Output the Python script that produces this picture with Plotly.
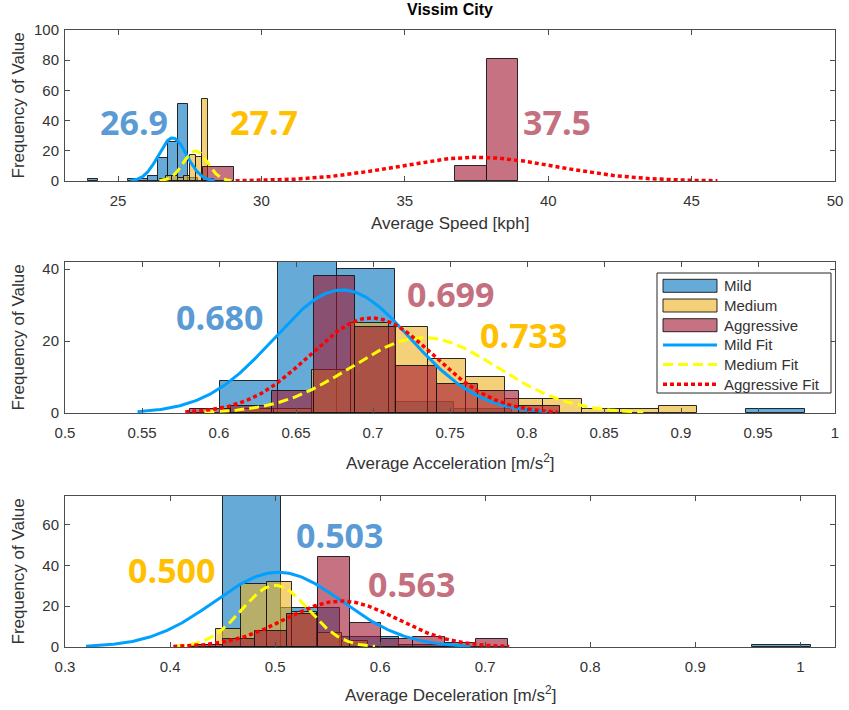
import numpy as np
import plotly.graph_objects as go

# ---------------- Histogram data (bin edges and counts) ----------------
# Average speed [kph]
speed_mild_edges = [23.94, 24.29, 24.64, 24.99, 25.34, 25.69, 26.04, 26.39, 26.74, 27.09, 27.44, 27.79]
speed_mild_counts = [1, 0, 0, 0, 1, 1, 3, 15, 26, 51, 2]
speed_medium_edges = [26.46, 26.67, 26.88, 27.09, 27.30, 27.51, 27.72, 27.93, 28.14, 28.35]
speed_medium_counts = [1, 3, 3, 2, 3, 17, 16, 54, 1]
speed_aggr_edges = [27.96, 29.06, 30.16, 31.26, 32.36, 33.46, 34.56, 35.66, 36.76, 37.86, 38.96]
speed_aggr_counts = [9, 0, 0, 0, 0, 0, 0, 0, 10, 81]

# Average acceleration [m/s^2]
accel_mild_edges = [0.6005, 0.6385, 0.6765, 0.7145, 0.7525, 0.7905, 0.8285, 0.8665, 0.9045, 0.9425, 0.9805]
accel_mild_counts = [9, 46, 40, 3, 1, 0, 0, 0, 0, 1]
accel_medium_edges = [0.5855, 0.6105, 0.6355, 0.6605, 0.6855, 0.7105, 0.7355, 0.7605,
                      0.7855, 0.8105, 0.8355, 0.8605, 0.8855, 0.9105]
accel_medium_counts = [0, 1, 1, 12, 25, 24, 15, 10, 4, 4, 1, 1, 2]
accel_aggr_edges = [0.5813, 0.6080, 0.6347, 0.6614, 0.6881, 0.7148, 0.7415, 0.7682, 0.7949, 0.8216]
accel_aggr_counts = [1, 2, 6, 38, 24, 13, 8, 6, 2]

# Average deceleration [m/s^2]
decel_mild_edges = [0.450, 0.506, 0.562, 0.618, 0.674, 0.730, 0.786, 0.842, 0.898, 0.954, 1.010]
decel_mild_counts = [74, 19, 5, 1, 0, 0, 0, 0, 0, 1]
decel_medium_edges = [0.420, 0.444, 0.468, 0.492, 0.516, 0.540, 0.564, 0.588]
decel_medium_counts = [1, 9, 31, 32, 17, 7, 3]
decel_aggr_edges = [0.4206, 0.4507, 0.4808, 0.5109, 0.5410, 0.5711, 0.6012, 0.6313, 0.6614, 0.6915, 0.7216]
decel_aggr_counts = [1, 4, 8, 16, 44, 12, 4, 5, 2, 4]

# ---------------- Normal fit parameters (Mild, Medium, Aggressive) ----------------
speed_fit_mean = [26.9, 27.7, 37.5]
speed_fit_sigma = [0.49, 0.42, 2.8]
accel_fit_mean = [0.680, 0.733, 0.699]
accel_fit_sigma = [0.0443, 0.0475, 0.0403]
decel_fit_mean = [0.503, 0.500, 0.563]
decel_fit_sigma = [0.061, 0.0317, 0.0533]

# ---------------- Axis ticks ----------------
speed_ticks = [25, 30, 35, 40, 45, 50]
accel_ticks = [0.5, 0.55, 0.6, 0.65, 0.7, 0.75, 0.8, 0.85, 0.9, 0.95, 1.0]
decel_ticks = [0.3, 0.4, 0.5, 0.6, 0.7, 0.8, 0.9, 1.0]
speed_yticks = [0, 20, 40, 60, 80, 100]
accel_yticks = [0, 20, 40]
decel_yticks = [0, 20, 40, 60]

groups = ["Mild", "Medium", "Aggressive"]
bar_fill = ["rgba(0,114,189,0.6)", "rgba(237,177,32,0.6)", "rgba(162,20,47,0.6)"]
bar_edge = "rgba(20,20,20,0.9)"
fit_color = ["rgb(0,160,255)", "rgb(255,255,0)", "rgb(255,0,0)"]
fit_dash = ["solid", "10px,5px", "4px,3px"]
fit_width = [3, 3, 3.5]
label_color = ["#5B9BD5", "#FFC000", "#C4707F"]

FONT = "Liberation Sans, Arial, sans-serif"
TXT = "#333333"
LINE = "#4d4d4d"
W, H = 849.0, 710.0
ML, MR = 65.0, 14.0
PW = W - ML - MR


def px(xpix):
    """Horizontal pixel -> paper fraction."""
    return (xpix - ML) / PW


def py(ypix):
    """Vertical pixel (from top) -> paper fraction."""
    return 1 - ypix / H


fig = go.Figure()

panels = [
    dict(xa="x", ya="y",
         bins=[(speed_mild_edges, speed_mild_counts), (speed_medium_edges, speed_medium_counts),
               (speed_aggr_edges, speed_aggr_counts)],
         mean=speed_fit_mean, sigma=speed_fit_sigma, fmt="{:.1f}",
         label_pos=[(25.56, 39), (30.09, 39), (40.3, 39)]),
    dict(xa="x2", ya="y2",
         bins=[(accel_mild_edges, accel_mild_counts), (accel_medium_edges, accel_medium_counts),
               (accel_aggr_edges, accel_aggr_counts)],
         mean=accel_fit_mean, sigma=accel_fit_sigma, fmt="{:.3f}",
         label_pos=[(0.6003, 26.8), (0.7975, 21.8), (0.750, 33.2)]),
    dict(xa="x3", ya="y3",
         bins=[(decel_mild_edges, decel_mild_counts), (decel_medium_edges, decel_medium_counts),
               (decel_aggr_edges, decel_aggr_counts)],
         mean=decel_fit_mean, sigma=decel_fit_sigma, fmt="{:.3f}",
         label_pos=[(0.5617, 54.9), (0.401, 37.9), (0.630, 31.0)]),
]

annotations = []
shapes = []
for p in panels:
    # histogram bars
    for i, (edges, counts) in enumerate(p["bins"]):
        e = np.asarray(edges, dtype=float)
        c = np.asarray(counts, dtype=float)
        centers = (e[:-1] + e[1:]) / 2
        widths = np.diff(e)
        keep = c > 0
        fig.add_trace(go.Bar(
            x=centers[keep], y=c[keep], width=widths[keep],
            marker=dict(color=bar_fill[i], line=dict(color=bar_edge, width=1)),
            name=groups[i], showlegend=False,
            xaxis=p["xa"], yaxis=p["ya"], hoverinfo="skip",
        ))
    # normal fits scaled to the histogram counts
    for i, (edges, counts) in enumerate(p["bins"]):
        n = float(np.sum(counts))
        bw = float(np.mean(np.diff(edges)))
        mu, sd = p["mean"][i], p["sigma"][i]
        xs = np.linspace(mu - 3 * sd, mu + 3 * sd, 200)
        ys = n * bw * np.exp(-0.5 * ((xs - mu) / sd) ** 2) / (sd * np.sqrt(2 * np.pi))
        fig.add_trace(go.Scatter(
            x=xs, y=ys, mode="lines",
            line=dict(color=fit_color[i], width=fit_width[i], dash=fit_dash[i]),
            name=groups[i] + " Fit", showlegend=False,
            xaxis=p["xa"], yaxis=p["ya"], hoverinfo="skip",
        ))
    # mean value labels
    for i in range(3):
        lx, ly = p["label_pos"][i]
        annotations.append(dict(
            x=lx, y=ly, xref=p["xa"], yref=p["ya"], text=p["fmt"].format(p["mean"][i]),
            xanchor="center", yanchor="middle",
            showarrow=False, font=dict(family="Open Sans", size=34, color=label_color[i], weight="bold"),
        ))


def paper_text(text, xpix, ypix, size, color=TXT, angle=0, xanchor="center"):
    return dict(x=px(xpix), y=py(ypix), xref="paper", yref="paper", text=text,
                xanchor=xanchor, yanchor="middle", textangle=angle, showarrow=False,
                font=dict(family=FONT, size=size, color=color))


# title and axis titles
annotations.append(paper_text("<b>Vissim City</b>", 450, 10, 16, color="#000000"))
xtitles = [("Average Speed [kph]", 223), ("Average Acceleration [m/s<sup>2</sup>]", 462),
           ("Average Deceleration [m/s<sup>2</sup>]", 694)]
for text, ypix in xtitles:
    annotations.append(paper_text(text, 450, ypix, 17))
for ymid in [105.5, 337.5, 571.5]:
    annotations.append(paper_text("Frequency of Value", 18, ymid, 17, angle=-90))

# legend box drawn inside the acceleration panel
leg_x0, leg_x1, leg_y0, leg_y1 = 657, 831, 273, 393
shapes.append(dict(type="rect", xref="paper", yref="paper", x0=px(leg_x0), x1=px(leg_x1),
                   y0=py(leg_y1), y1=py(leg_y0), fillcolor="white", line=dict(color="#262626", width=1),
                   layer="above"))
row_step = 19.7
row0 = 285.8
sym_x0, sym_x1 = 663, 717
for i in range(3):
    yc = row0 + i * row_step
    shapes.append(dict(type="rect", xref="paper", yref="paper", x0=px(sym_x0), x1=px(sym_x1),
                       y0=py(yc + 6.5), y1=py(yc - 6.5), fillcolor=bar_fill[i],
                       line=dict(color=bar_edge, width=1), layer="above"))
    annotations.append(paper_text(groups[i], 722, yc, 15, xanchor="left"))
for i in range(3):
    yc = row0 + (i + 3) * row_step
    shapes.append(dict(type="line", xref="paper", yref="paper", x0=px(sym_x0), x1=px(sym_x1),
                       y0=py(yc), y1=py(yc),
                       line=dict(color=fit_color[i], width=fit_width[i], dash=fit_dash[i]), layer="above"))
    annotations.append(paper_text(groups[i] + " Fit", 722, yc, 15, xanchor="left"))


def xaxis(rng, ticks, anchor):
    return dict(
        domain=[0, 1], range=rng, anchor=anchor, automargin=False,
        tickvals=ticks, ticktext=[f"{t:g}" for t in ticks],
        ticks="inside", ticklen=5, tickcolor=LINE, showline=True, linecolor=LINE, linewidth=1,
        mirror="ticks", showgrid=False, zeroline=False, ticklabelstandoff=6,
        tickfont=dict(family=FONT, size=15, color=TXT),
    )


def yaxis(rng, ticks, anchor, top, bottom):
    return dict(
        domain=[py(bottom), py(top)], range=rng, anchor=anchor, automargin=False,
        tickvals=ticks, ticktext=[f"{t:g}" for t in ticks],
        ticks="inside", ticklen=5, tickcolor=LINE, showline=True, linecolor=LINE, linewidth=1,
        mirror="ticks", showgrid=False, zeroline=False, ticklabelstandoff=2,
        tickfont=dict(family=FONT, size=15, color=TXT),
    )


fig.update_layout(
    width=849, height=710,
    margin=dict(l=ML, r=MR, t=0, b=0),
    paper_bgcolor="white", plot_bgcolor="white",
    barmode="overlay", bargap=0, showlegend=False,
    xaxis=xaxis([23.15, 50], speed_ticks, "y"),
    yaxis=yaxis([0, 100], speed_yticks, "x", 30, 181),
    xaxis2=xaxis([0.5, 1.0], accel_ticks, "y2"),
    yaxis2=yaxis([0, 42], accel_yticks, "x2", 262, 413),
    xaxis3=xaxis([0.3, 1.033], decel_ticks, "y3"),
    yaxis3=yaxis([0, 74], decel_yticks, "x3", 496, 647),
    annotations=annotations,
    shapes=shapes,
)

fig.write_html("out.html")
